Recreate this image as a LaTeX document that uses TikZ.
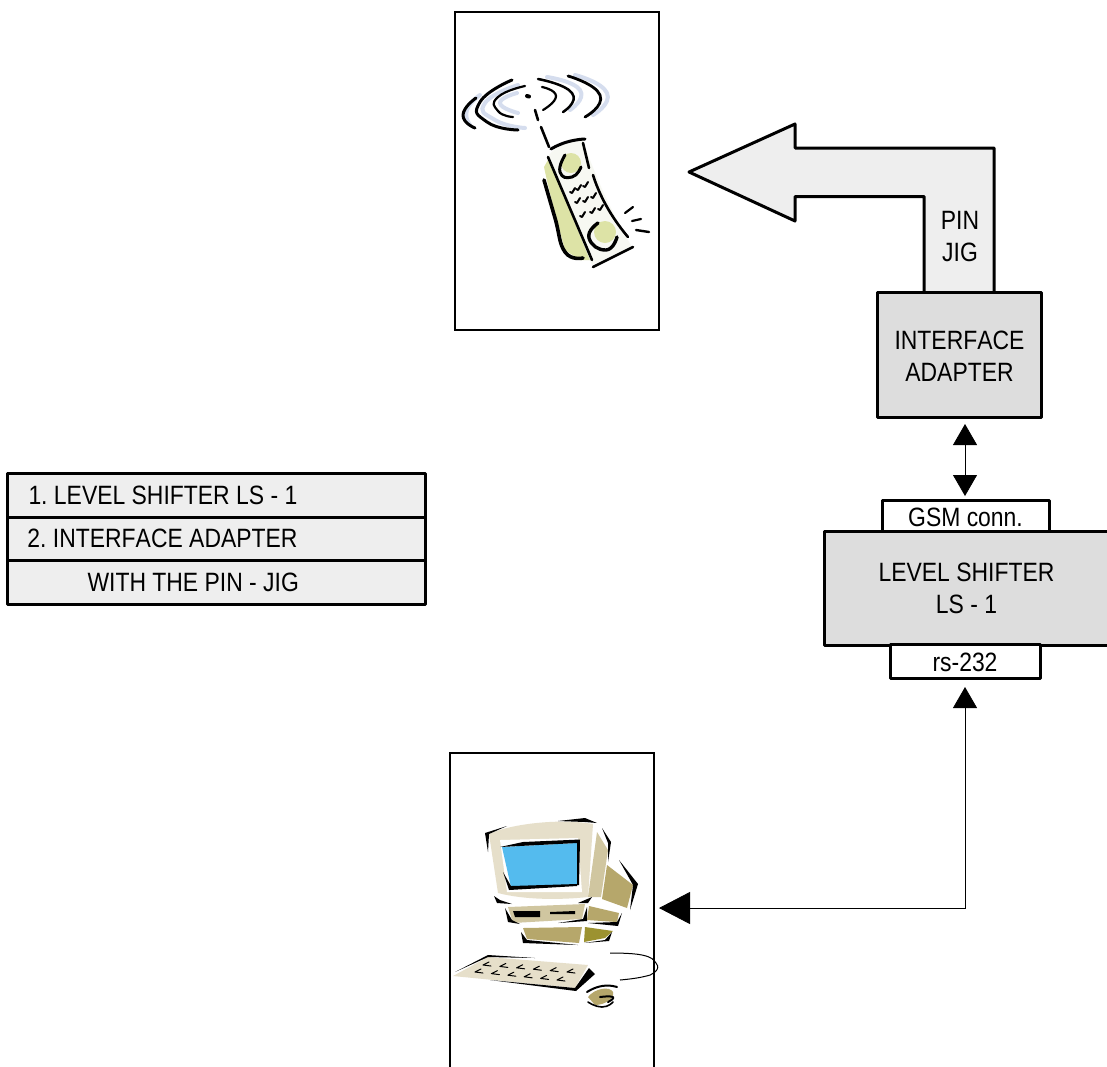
\documentclass[tikz,border=0pt]{standalone}
\usepackage{fontspec}
\usetikzlibrary{arrows.meta}
\setmainfont[FakeStretch=0.865,Kerning=Off,WordSpace=1.0]{Liberation Sans}
\definecolor{boxgray}{HTML}{DDDDDD}
\definecolor{lightgray2}{HTML}{EEEEEE}
\definecolor{phonegreen}{HTML}{DDE3A6}
\definecolor{phonewhite}{HTML}{F7F8F2}
\definecolor{wave}{HTML}{D5DDEE}
\definecolor{pccream}{HTML}{E6DFCA}
\definecolor{pcmid}{HTML}{D0C6A0}
\definecolor{pcdark}{HTML}{B6A76B}
\definecolor{pcolive}{HTML}{9C9230}
\definecolor{pcblue}{HTML}{54BBEE}
\newcommand{\lowr}[1]{\rule{0pt}{#1pt}}
\tikzset{
 frame/.style={draw=black,line width=1.2pt,fill=white},
 graybox/.style={draw=black,line width=3pt,fill=boxgray,align=center,inner sep=0pt,line join=round,outer sep=0pt},
 labelbox/.style={draw=black,line width=3pt,fill=white,inner sep=0pt,line join=round,outer sep=0pt},
 rowbox/.style={draw=black,line width=3pt,fill=lightgray2,inner sep=0pt,outer sep=0pt,anchor=north west,minimum width=418pt,text width=418pt,align=flush left,line join=round},
 txt/.style={font=\fontsize{26.5}{32}\selectfont},
 dbl/.style={line width=.8pt,{Triangle[length=21pt,width=24pt]}-{Triangle[length=21pt,width=24pt]}},
 elbow/.style={line width=.8pt,{Triangle[length=21pt,width=24pt]}-{Triangle[length=31pt,width=32pt]}},
 ink/.style={draw=black,line cap=round,line join=round},
 wv/.style={wave,line width=4pt,line cap=round},
}
\begin{document}
\frenchspacing
\begin{tikzpicture}[x=1pt,y=-1pt]
\useasboundingbox (0,0) rectangle (1107,1066);
% frames
\node[frame,minimum width=204pt,minimum height=318pt,inner sep=0pt,outer sep=0pt,anchor=north west] (phoneframe) at (455,12) {};
\draw[line width=1.2pt,fill=white] (450,1068) -- (450,753) -- (654,753) -- (654,1068);
% phone waves
\draw[wv] plot[smooth,tension=1] coordinates {(517,93) (500,103) (518,113)};
\draw[wv] plot[smooth,tension=1] coordinates {(518,85) (485,103) (495,120) (525,128)};
\draw[wv] plot[smooth,tension=1] coordinates {(480,95) (467,110) (470,125)};
\draw[wv] plot[smooth,tension=1] coordinates {(547,77) (580,90) (570,110)};
\draw[wv] plot[smooth,tension=1] coordinates {(575,75) (607,93) (593,115)};
\draw[ink,line width=2.2pt] plot[smooth,tension=1] coordinates {(525,86) (498,97) (498,111) (513,117)};
\draw[ink,line width=3pt] plot[smooth,tension=1] coordinates {(512,80) (480,102) (487,122) (518,130)};
\draw[ink,line width=3pt] plot[smooth,tension=1] coordinates {(476,98) (463,115) (475,128)};
\draw[ink,line width=2.2pt] plot[smooth,tension=1] coordinates {(542,87) (556,96) (543,110)};
\draw[ink,line width=2.5pt] plot[smooth,tension=1] coordinates {(538,79) (572,93) (563,112)};
\draw[ink,line width=2.8pt] plot[smooth,tension=1] coordinates {(568,76) (600,95) (585,117)};
% antenna
\draw[ink,line width=4pt] (527,96) -- (529,96.5);
\draw[ink,line width=2.6pt] (535,110) -- (538,120);
\draw[ink,line width=2.6pt] (541,127) -- (549,147);
% phone body
\fill[phonegreen] (544,167) -- (548,160) -- (592,260) -- (580,260) -- (565,250) .. controls (558,225) and (550,195) .. (544,167) -- cycle;
\fill[phonewhite] (549,155) .. controls (560,142) and (575,140) .. (583,141) .. controls (595,175) and (610,210) .. (632,247) -- (592,265) -- (548,157) -- cycle;
\draw[ink,line width=3pt] plot[smooth,tension=1] coordinates {(551,149) (567,142) (585,139)};
\draw[ink,line width=2.6pt] (583,143) -- (589,168);
\draw[ink,line width=2.6pt] plot[smooth,tension=1] coordinates {(593,175) (607,207) (628,237)};
\draw[ink,line width=2.6pt] (548,157) -- (592,260);
\draw[ink,line width=3.6pt] plot[smooth,tension=.8] coordinates {(544,180) (555,218) (565,252) (583,258)};
\draw[ink,line width=2.6pt] (593,267) -- (633,247);
\fill[phonegreen] (571,163) circle (10);
\fill[phonegreen] (605,232) circle (11);
\draw[ink,line width=3pt] plot[smooth,tension=1] coordinates {(565,155) (560,172) (572,177) (581,167)};
\draw[ink,line width=3.4pt] plot[smooth,tension=1] coordinates {(598,223) (589,238) (606,250) (617,237)};
\foreach \x/\y in {572/193,578/190,585/187,577/203,585/202,593/198,582/217,592/213,600/210}
 \draw[ink,line width=2pt] (\x,\y) -- ++(-2,-1) (\x,\y) -- ++(3,-5);
\draw[ink,line width=2.2pt] (625,213) -- (633,207);
\draw[ink,line width=2.2pt] (632,221) -- (641,219);
\draw[ink,line width=2.4pt] (636,230) -- (649,232);
% big arrow
\path[fill=lightgray2,draw=black,line width=3pt,line join=round]
 (924,293) -- (924,196.5) -- (795,196.5) -- (795,221) -- (689,172) -- (795,124) -- (795,148) -- (994,148) -- (994,293);
\node[txt,align=center] (pinjig) at (960,236) {\lowr{20}PIN\\JIG};
% boxes
\node[graybox,txt,minimum width=164pt,minimum height=125pt] (iface) at (959.5,354.5) {\lowr{22}INTERFACE\\ADAPTER};
\node[labelbox,txt,minimum width=167pt,minimum height=31pt] (gsm) at (965.5,515.5) {\lowr{22}GSM conn.};
\node[graybox,txt,minimum width=284pt,minimum height=114pt] (shifter) at (966.5,588) {LEVEL SHIFTER\\LS - 1};
\node[labelbox,txt,minimum width=150pt,minimum height=34pt] (rs) at (965,661) {\lowr{21.3}rs-232};
% legend
\node[rowbox,txt,minimum height=44pt] (r1) at (7.5,473.5) {\hspace*{21pt}1. LEVEL SHIFTER LS - 1};
\node[rowbox,txt,minimum height=42.5pt] (r2) at (7.5,517.5) {\hspace*{20pt}2. INTERFACE ADAPTER};
\node[rowbox,txt,minimum height=44pt] (r3) at (7.5,560) {\hspace*{80pt}WITH THE PIN - JIG};
% connectors
\coordinate (iftip) at (965,424);
\coordinate (gsmtip) at (965,496);
\draw[dbl] (iftip) -- (gsmtip);
\coordinate (rstip) at (965,687);
\coordinate (corner) at (965,908);
\coordinate (pctip) at (659,908);
\draw[elbow] (rstip) -- (corner) -- (pctip);
% computer
\fill[pccream] (489,834) .. controls (510,824) and (560,818) .. (593,824) -- (588,897) .. controls (560,900) and (525,900) .. (498,893) -- cycle;
\fill[white] (500,840) -- (578,838) -- (582,892) -- (507,892) -- cycle;
\fill[pcblue] (502,847) -- (577,843) -- (577,885) -- (511,887) -- cycle;
\fill[black] (523,842) -- (580,839.5) -- (579,885) -- (577,885) -- (577,843) -- (500,847) -- cycle;
\fill[black] (503,872) -- (511,886) -- (577,884) -- (577,886) -- (509,890) -- cycle;
\fill[pcmid] (597,832) -- (608,850) -- (601,897) -- (588,897) -- cycle;
\fill[pcdark] (607,865) -- (633,885) -- (627,908) -- (602,899) -- cycle;
\fill[black] (485,833) -- (507,826) -- (489,834) -- (488,852) -- cycle;
\fill[black] (558,821) -- (585,818) -- (597,823) -- (585,822) -- cycle;
\fill[black] (602,828) -- (611,842) -- (608,862) -- (608,843) -- cycle;
\fill[black] (619,860) -- (638,884) -- (630,910) -- (633,885) -- cycle;
\fill[pcmid] (508,907) -- (585,904) -- (582,919) -- (513,923) -- cycle;
\fill[black] (513,911) -- (540,911) -- (540,917) -- (515,917) -- cycle;
\fill[black] (550,912) -- (575,911) -- (575,914) -- (550,914) -- cycle;
\fill[black] (505,908) -- (508,922) -- (520,924) -- (512,920) -- cycle;
\fill[black] (494,896) -- (497,903) -- (512,904) -- (500,900) -- cycle;
\fill[black] (558,923) -- (583,919) -- (587,907) -- (587,921) -- cycle;
\fill[black] (578,903) -- (592,897) -- (588,903) -- cycle;
\fill[pcdark] (589,906) -- (619,913) -- (617,922) -- (587,920) -- cycle;
\fill[black] (622,913) -- (618,926) -- (588,923) -- (617,922) -- cycle;
\fill[pcdark] (523,928) -- (582,927) -- (579,943) -- (527,939) -- cycle;
\fill[black] (521,932) -- (523,943) -- (578,945) -- (527,940) -- cycle;
\fill[pcolive] (585,927) -- (613,931) -- (605,938) -- (584,942) -- cycle;
\fill[black] (584,943) -- (605,940) -- (612,932) -- (609,941) -- cycle;
% keyboard
\fill[pccream] (453,976) -- (488,957) -- (588,965) -- (575,988) -- cycle;
\fill[black] (455,972) -- (488,955) -- (535,958) -- (488,957) -- cycle;
\fill[black] (589,968) -- (595,974) -- (576,991) -- (490,980) -- (575,988) -- cycle;
\foreach \x in {0,1,2,3,4,5}{
 \draw[ink,line width=1pt] (483+16.8*\x,965+1.4*\x) -- ++(6,-3) (483+16.8*\x,965+1.4*\x) -- ++(8,1);
 \draw[ink,line width=1pt] (475+16.4*\x,972+1.6*\x) -- ++(6,-3) (475+16.4*\x,972+1.6*\x) -- ++(8,1);
}
% cable and mouse
\draw[black,line width=1pt] plot[smooth,tension=.8] coordinates {(610,953) (642,955) (656,963) (655,972) (642,977) (620,980)};
\fill[pcdark] (588,997) .. controls (595,988) and (610,986) .. (613,992) .. controls (615,998) and (605,1005) .. (595,1005) -- cycle;
\draw[ink,line width=2pt] plot[smooth,tension=1] coordinates {(587,992) (602,986) (617,987)};
\draw[ink,line width=2pt] plot[smooth,tension=1] coordinates {(600,997) (613,997) (608,1002)};
\draw[ink,line width=1.6pt] plot[smooth,tension=1] coordinates {(588,1002) (602,1007) (613,1002)};
\end{tikzpicture}
\end{document}
